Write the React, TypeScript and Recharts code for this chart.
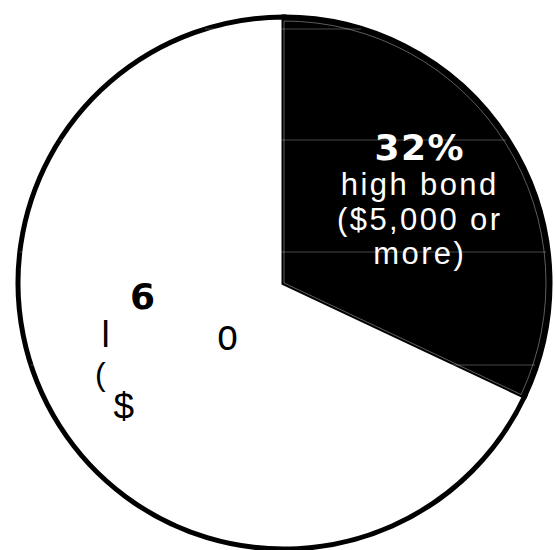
import React from 'react';
import { PieChart, Pie, Cell } from 'recharts';

// ---- data ----
const categories = ['high bond ($5,000 or more)', 'low bond'];
const shares = [32, 68];
const sliceColors = ['#000000', '#ffffff'];
const percentLabels = ['32%', '6'];
const highBondLines = ['high bond', '($5,000 or', 'more)'];
// visible fragments of the (mostly hidden) low-bond label
const lowBondFragments = ['l', 'o', '(', '$'];
// faint scan lines (offsets from pie centre, in px)
const scanLineOffsets = [-254, -143, -31, 82];

const data = categories.map((name, i) => ({ name, value: shares[i] }));

const RAD = Math.PI / 180;
const SANS = "'Liberation Sans', Arimo, Arial, Helvetica, sans-serif";
const BOLD = "'DejaVu Sans', 'Liberation Sans', Arial, sans-serif";

function renderLabel(props: any) {
  const { cx, cy, midAngle, outerRadius, index } = props;
  if (index === 0) {
    const R = outerRadius * 0.6;
    const ax = cx + R * Math.cos(-midAngle * RAD);
    const ay = cy + R * Math.sin(-midAngle * RAD);
    return (
      <g>
        {scanLineOffsets.map((dy, k) => {
          const half = Math.sqrt(Math.max(0, outerRadius * outerRadius - dy * dy));
          return (
            <line
              key={'s' + k}
              x1={cx - half}
              x2={cx + half - 2}
              y1={cy + dy}
              y2={cy + dy}
              stroke="#ffffff"
              strokeOpacity={0.28}
              strokeWidth={1}
            />
          );
        })}
        <text
          x={ax + 1}
          y={ay - 37}
          textAnchor="middle"
          fill="#fff"
          style={{ fontFamily: BOLD, fontWeight: 700, fontSize: 36, letterSpacing: 1.5 }}
        >
          {percentLabels[0]}
        </text>
        {highBondLines.map((t, k) => (
          <text
            key={k}
            x={ax + 1}
            y={ay - 2 + k * 34.5}
            textAnchor="middle"
            fill="#fff"
            style={{ fontFamily: SANS, fontSize: 31, letterSpacing: 2.4 }}
          >
            {t}
          </text>
        ))}
      </g>
    );
  }
  // low bond label: only fragments are visible in the reference
  const offs = [
    { dx: -182.5, dy: 63.5, size: 37 },
    { dx: -56.5, dy: 67, size: 37 },
    { dx: -189, dy: 102, size: 32 },
    { dx: -170.5, dy: 136, size: 37 },
  ];
  return (
    <g>
      <text
        x={cx - 154}
        y={cy + 26}
        fill="#000"
        style={{ fontFamily: BOLD, fontWeight: 700, fontSize: 36 }}
      >
        {percentLabels[1]}
      </text>
      {lowBondFragments.map((t, k) => {
        const o = offs[k];
        if (t === 'o') {
          return (
            <text
              key={k}
              transform={`translate(${cx + o.dx},${cy + o.dy}) scale(1,1.22)`}
              textAnchor="middle"
              fill="#000"
              style={{ fontFamily: SANS, fontSize: o.size }}
            >
              {t}
            </text>
          );
        }
        return (
          <text
            key={k}
            x={cx + o.dx}
            y={cy + o.dy}
            fill="#000"
            style={{ fontFamily: SANS, fontSize: o.size }}
          >
            {t}
          </text>
        );
      })}
    </g>
  );
}

export default function App() {
  return (
    <div style={{ position: 'absolute', left: 0, top: 0, width: 556, height: 550, background: '#fff' }}>
      <PieChart width={556} height={550} margin={{ top: 0, right: 0, bottom: 0, left: 0 }}>
        <Pie
          data={data}
          dataKey="value"
          nameKey="name"
          cx={284}
          cy={283}
          outerRadius={266}
          startAngle={90}
          endAngle={-270}
          stroke="#000"
          strokeWidth={5}
          isAnimationActive={false}
          labelLine={false}
          label={renderLabel}
        >
          {data.map((d, i) => (
            <Cell
              key={d.name}
              fill={sliceColors[i]}
              stroke="#000"
              strokeWidth={5}
              style={{ stroke: '#000', strokeWidth: 5 }}
            />
          ))}
        </Pie>
        <Pie
          data={data}
          dataKey="value"
          nameKey="name"
          cx={284}
          cy={283}
          outerRadius={262}
          startAngle={90}
          endAngle={-270}
          isAnimationActive={false}
          labelLine={false}
          label={false}
          fill="none"
        >
          {data.map((d, i) => (
            <Cell
              key={d.name}
              fill="none"
              stroke={i === 0 ? '#9a9a9a' : 'none'}
              strokeWidth={0.6}
            />
          ))}
        </Pie>
      </PieChart>
    </div>
  );
}
